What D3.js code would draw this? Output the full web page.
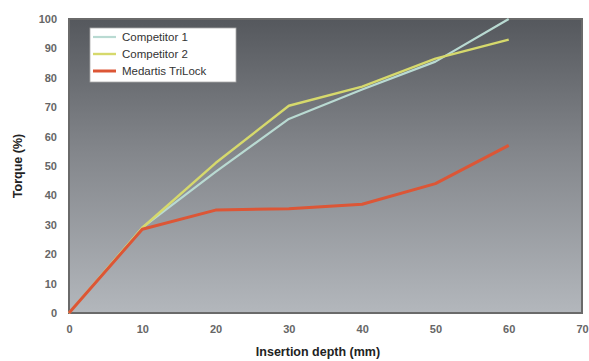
<!DOCTYPE html>
<html>
<head>
<meta charset="utf-8">
<script src="https://cdn.jsdelivr.net/npm/d3@7"></script>
<style>
  body { margin: 0; background: #fff; }
  svg { display: block; font-family: "Liberation Sans", Arial, sans-serif; }
</style>
</head>
<body>
<svg id="chart" width="589" height="361"></svg>
<script>
// chart data
const depths = [0, 10, 20, 30, 40, 50, 60];
const competitor1 = [0, 29, 48, 66, 76, 85.5, 100];
const competitor2 = [0, 29, 51, 70.5, 77, 86.5, 93];
const trilock = [0, 28.5, 35, 35.5, 37, 44, 57];
const seriesNames = ["Competitor 1", "Competitor 2", "Medartis TriLock"];
const xTicks = [0, 10, 20, 30, 40, 50, 60, 70];
const yTicks = [0, 10, 20, 30, 40, 50, 60, 70, 80, 90, 100];

const svg = d3.select("#chart");
const m = {left: 69, right: 582, top: 19, bottom: 313};

const x = d3.scaleLinear().domain([0, 70]).range([m.left, m.right]);
const y = d3.scaleLinear().domain([0, 100]).range([m.bottom, m.top]);

// background gradient
const grad = svg.append("defs").append("linearGradient")
  .attr("id", "bg").attr("x1", 0).attr("y1", 0).attr("x2", 0).attr("y2", 1);
grad.append("stop").attr("offset", "0%").attr("stop-color", "#55585d");
grad.append("stop").attr("offset", "45%").attr("stop-color", "#83868b");
grad.append("stop").attr("offset", "100%").attr("stop-color", "#b3b7bc");

svg.append("rect")
  .attr("x", m.left).attr("y", m.top)
  .attr("width", m.right - m.left).attr("height", m.bottom - m.top)
  .attr("fill", "url(#bg)")
  .attr("stroke", "#6a6a6a").attr("stroke-width", 2);

// axes
const xAxis = svg.append("g")
  .attr("transform", `translate(0,${m.bottom})`)
  .call(d3.axisBottom(x).tickValues(xTicks).tickSize(0).tickPadding(12));
const yAxis = svg.append("g")
  .attr("transform", `translate(${m.left},0)`)
  .call(d3.axisLeft(y).tickValues(yTicks).tickSize(0).tickPadding(12));
[xAxis, yAxis].forEach(a => {
  a.select(".domain").remove();
  a.selectAll("text")
    .attr("fill", "#666")
    .style("font-size", "11px")
    .style("font-weight", "bold");
});

// series
const series = [
  {name: seriesNames[0], values: competitor1, color: "#b9dad2", width: 2.2},
  {name: seriesNames[1], values: competitor2, color: "#d6d96c", width: 2.4},
  {name: seriesNames[2], values: trilock, color: "#dc5636", width: 3}
];

const line = d3.line()
  .x((d, i) => x(depths[i]))
  .y(d => y(d));

svg.append("g").selectAll("path")
  .data(series)
  .enter()
  .append("path")
  .attr("d", d => line(d.values))
  .attr("fill", "none")
  .attr("stroke", d => d.color)
  .attr("stroke-width", d => d.width)
  .attr("stroke-linejoin", "round");

// legend
const legend = svg.append("g").attr("transform", "translate(90,28)");
legend.append("rect")
  .attr("width", 146).attr("height", 54)
  .attr("fill", "#fff").attr("stroke", "#aaa").attr("stroke-width", 0.8);
const items = legend.selectAll("g.item")
  .data(series)
  .enter()
  .append("g")
  .attr("class", "item")
  .attr("transform", (d, i) => `translate(0,${9 + i * 17})`);
items.append("line")
  .attr("x1", 3).attr("x2", 26)
  .attr("stroke", d => d.color)
  .attr("stroke-width", d => d.width);
items.append("text")
  .attr("x", 32).attr("y", 4)
  .text(d => d.name)
  .attr("fill", "#333")
  .style("font-size", "11.5px");

// axis titles
svg.append("text")
  .attr("x", 318).attr("y", 356)
  .attr("text-anchor", "middle")
  .style("font-size", "12.5px").style("font-weight", "bold")
  .attr("fill", "#222")
  .text("Insertion depth (mm)");

svg.append("text")
  .attr("transform", "translate(22,166) rotate(-90)")
  .attr("text-anchor", "middle")
  .style("font-size", "12.5px").style("font-weight", "bold")
  .attr("fill", "#222")
  .text("Torque (%)");
</script>
</body>
</html>
